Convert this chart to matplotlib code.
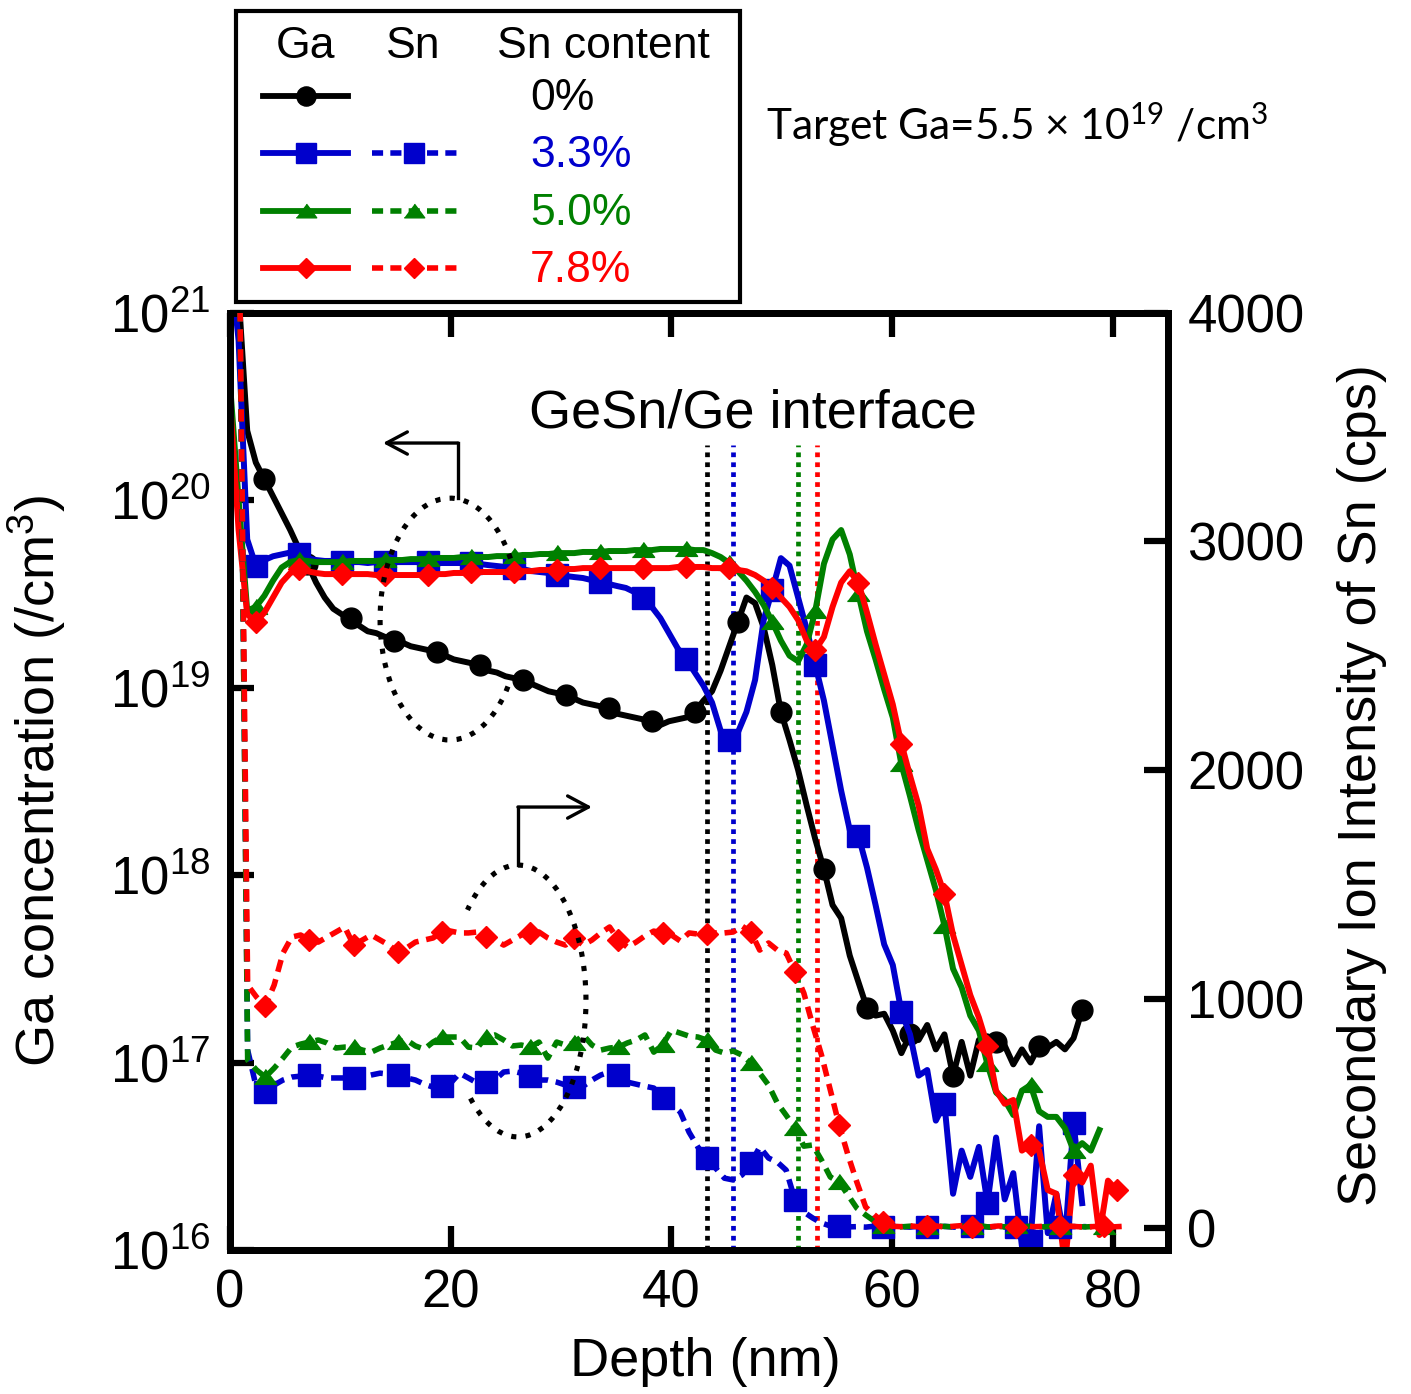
import numpy as np
import matplotlib
matplotlib.use("Agg")
import matplotlib.pyplot as plt
from matplotlib.patches import Arc, Rectangle
from matplotlib.lines import Line2D
from matplotlib.ticker import FixedLocator, NullLocator

plt.rcParams["font.family"] = ["Liberation Sans", "DejaVu Sans"]
plt.rcParams["mathtext.fontset"] = "custom"
plt.rcParams["mathtext.rm"] = "Liberation Sans"
plt.rcParams["mathtext.it"] = "Liberation Sans:italic"
plt.rcParams["mathtext.bf"] = "Liberation Sans:bold"

# ---------------------------------------------------------------- data
# SIMS depth sampling (nm per point)
GA_STEP = 0.78
SN_STEP = 0.80

sn_contents = ["0%", "3.3%", "5.0%", "7.8%"]

# log10 of Ga concentration (/cm^3)
ga_log_00 = [21.40, 21.10, 20.37, 20.20, 20.11, 20.02, 19.93, 19.84, 19.74, 19.66,
             19.56, 19.48, 19.42, 19.39, 19.37, 19.33, 19.30, 19.29, 19.27, 19.25,
             19.24, 19.22, 19.21, 19.20, 19.19, 19.17, 19.15, 19.14, 19.13, 19.12,
             19.09, 19.08, 19.06, 19.05, 19.04, 19.02, 19.00, 18.98, 18.97, 18.96,
             18.94, 18.92, 18.91, 18.90, 18.89, 18.86, 18.85, 18.84, 18.83, 18.82,
             18.80, 18.82, 18.83, 18.84, 18.87, 18.93, 18.98, 19.09, 19.22, 19.35,
             19.48, 19.45, 19.32, 19.12, 18.87, 18.72, 18.56, 18.37, 18.19, 18.03,
             17.84, 17.77, 17.57, 17.43, 17.29, 17.25, 17.26, 17.17, 17.05, 17.15,
             17.12, 17.20, 17.07, 17.15, 16.93, 17.11, 16.93, 17.12, 17.14, 17.11,
             17.09, 16.99, 17.07, 17.00, 17.09, 17.08, 17.11, 17.07, 17.13, 17.28]

ga_log_33 = [21.30, 20.85, 19.79, 19.65, 19.68, 19.70, 19.71, 19.72, 19.71, 19.69,
             19.68, 19.675, 19.675, 19.669, 19.669, 19.669, 19.664, 19.669, 19.669, 19.669,
             19.669, 19.669, 19.669, 19.669, 19.664, 19.664, 19.664, 19.664, 19.664, 19.659,
             19.653, 19.648, 19.643, 19.637, 19.632, 19.621, 19.616, 19.611, 19.600, 19.595,
             19.589, 19.584, 19.573, 19.563, 19.552, 19.541, 19.531, 19.509, 19.478, 19.43,
             19.37, 19.29, 19.21, 19.15, 19.08, 19.01, 18.92, 18.77, 18.72, 18.76,
             18.87, 19.04, 19.36, 19.52, 19.69, 19.65, 19.48, 19.31, 19.12, 18.93,
             18.69, 18.45, 18.24, 18.21, 18.04, 17.84, 17.63, 17.52, 17.27, 17.15,
             16.93, 16.96, 16.69, 16.78, 16.30, 16.53, 16.39, 16.55, 16.25, 16.60,
             16.27, 16.41, 16.02, 16.05, 16.66, 16.09, 16.30, 16.05, 16.68, 16.25]

ga_log_50 = [20.62, 20.00, 19.41, 19.43, 19.49, 19.57, 19.64, 19.67, 19.68, 19.675,
             19.669, 19.669, 19.669, 19.669, 19.675, 19.675, 19.675, 19.675, 19.68, 19.68,
             19.68, 19.685, 19.685, 19.685, 19.691, 19.691, 19.691, 19.696, 19.696, 19.696,
             19.696, 19.701, 19.701, 19.701, 19.707, 19.707, 19.712, 19.712, 19.717, 19.717,
             19.717, 19.723, 19.723, 19.723, 19.728, 19.728, 19.728, 19.733, 19.733, 19.733,
             19.739, 19.739, 19.739, 19.739, 19.733, 19.733, 19.717, 19.696, 19.664, 19.621,
             19.57, 19.51, 19.44, 19.35, 19.25, 19.17, 19.14, 19.23, 19.41, 19.66,
             19.79, 19.84, 19.71, 19.50, 19.30, 19.15, 18.99, 18.84, 18.59, 18.42,
             18.24, 18.08, 17.92, 17.73, 17.50, 17.40, 17.25, 17.17, 16.99, 16.84,
             16.80, 16.72, 16.85, 16.88, 16.74, 16.71, 16.71, 16.65, 16.53, 16.57,
             16.53, 16.64]

ga_log_78 = [20.53, 19.84, 19.39, 19.35, 19.40, 19.48, 19.56, 19.61, 19.63, 19.62,
             19.611, 19.605, 19.605, 19.605, 19.605, 19.605, 19.605, 19.60, 19.60, 19.60,
             19.60, 19.60, 19.60, 19.60, 19.605, 19.605, 19.611, 19.611, 19.616, 19.616,
             19.616, 19.616, 19.616, 19.616, 19.621, 19.621, 19.627, 19.627, 19.627, 19.632,
             19.632, 19.637, 19.637, 19.637, 19.637, 19.637, 19.637, 19.637, 19.637, 19.637,
             19.637, 19.637, 19.643, 19.643, 19.643, 19.643, 19.637, 19.637, 19.637, 19.627,
             19.62, 19.60, 19.57, 19.53, 19.48, 19.43, 19.36, 19.25, 19.20, 19.27,
             19.43, 19.56, 19.62, 19.56, 19.40, 19.23, 19.07, 18.91, 18.70, 18.53,
             18.37, 18.14, 18.03, 17.90, 17.68, 17.52, 17.36, 17.24, 17.09, 16.85,
             16.78, 16.80, 16.53, 16.56, 16.53, 16.32, 16.30, 15.92, 16.40, 16.36,
             16.45, 16.08, 16.37, 16.32]

# Sn secondary ion intensity (cps)
sn_33 = [4500, 4500, 776, 610, 592, 623, 645, 658, 662, 667,
         662, 654, 654, 654, 654, 658, 667, 675, 671, 667,
         654, 645, 627, 614, 618, 632, 675, 654, 632, 636,
         645, 680, 684, 675, 662, 645, 645, 636, 623, 614,
         618, 645, 667, 680, 667, 636, 627, 618, 610, 566,
         540, 505, 417, 352, 304, 260, 216, 208, 230, 282,
         352, 304, 286, 251, 120, 68, 42, 20, 7, 5,
         3, 4, 2, 6, 3, 5, 4, 2, 6, 3,
         4, 5, 2, 3, 6, 4, 3, 5, 2, 4,
         6, 3, 5, 2, 4, 3, 5, 4]

sn_50 = [4500, 4500, 732, 689, 658, 697, 741, 789, 802, 811,
         820, 807, 785, 789, 789, 776, 767, 785, 798, 811,
         820, 794, 780, 811, 833, 833, 833, 789, 785, 833,
         842, 820, 794, 798, 789, 811, 741, 811, 798, 807,
         842, 798, 776, 785, 789, 807, 820, 842, 767, 798,
         863, 850, 837, 833, 820, 776, 763, 772, 754, 719,
         675, 623, 544, 491, 435, 356, 361, 295, 221, 199,
         142, 85, 55, 28, 7, 5, 3, 6, 4, 2,
         7, 5, 3, 6, 4, 8, 2, 5, 3, 6,
         4, 7, 3, 5, 2, 6, 4, 3, 5, 4]

sn_78 = [4500, 4500, 1060, 1008, 968, 1060, 1200, 1270, 1279, 1257,
         1248, 1270, 1292, 1314, 1235, 1257, 1279, 1257, 1235, 1204,
         1222, 1248, 1257, 1266, 1292, 1296, 1288, 1288, 1292, 1270,
         1257, 1235, 1257, 1279, 1288, 1292, 1266, 1248, 1235, 1266,
         1235, 1257, 1288, 1314, 1257, 1226, 1248, 1275, 1296, 1288,
         1279, 1253, 1288, 1283, 1283, 1288, 1288, 1292, 1318, 1292,
         1213, 1244, 1213, 1200, 1117, 1025, 885, 754, 601, 448,
         317, 199, 90, 55, 24, 6, 4, 8, 3, 5,
         7, 2, 6, 9, 4, 5, 3, 7, 6, 2,
         8, 4, 5, 3, 6, 7, 4, 2, 5, 8,
         3, 5]

# GeSn/Ge interface depth for each sample (nm)
interface_depth = [43.2, 45.6, 51.5, 53.2]

# ---------------------------------------------------------------- style
colors = ["#000000", "#0000CC", "#008000", "#FF0000"]
tri = [(-1.0, -0.62), (1.0, -0.62), (0.0, 0.72)]
markers = ["o", "s", tri, "D"]
msizes = [15, 15.5, 16, 11.5]
ga_mark_start = [4, 3, 3, 3]
DASH = (0, (2.2, 1.4))

fig = plt.figure(figsize=(14.11, 13.94), dpi=100)
ax = fig.add_axes([0.1630, 0.1033, 0.6648, 0.6725])
ax2 = ax.twinx()

ga_series = [ga_log_00, ga_log_33, ga_log_50, ga_log_78]
for k, vals in enumerate(ga_series):
    v = np.array(vals)
    d = np.arange(len(v)) * GA_STEP
    ax.plot(d, 10.0 ** v, color=colors[k], lw=4.3, marker=markers[k],
            ms=msizes[k], mec=colors[k], mfc=colors[k],
            markevery=(ga_mark_start[k], 5), zorder=3 + k,
            solid_joinstyle="round")

sn_series = [(1, sn_33), (2, sn_50), (3, sn_78)]
for k, vals in sn_series:
    v = np.array(vals, dtype=float)
    d = np.arange(len(v)) * SN_STEP
    ax2.plot(d, v, color=colors[k], lw=4.0, ls=DASH, marker=markers[k],
             ms=msizes[k], mec=colors[k], mfc=colors[k],
             markevery=(4, 5), zorder=3 + k)

for k, xd in enumerate(interface_depth):
    ax.axvline(xd, ymin=0, ymax=0.8587, color=colors[k], lw=3.4,
               ls=(0, (1, 1.1)), zorder=2)

# axes ranges and ticks
ax.set_xlim(0, 85)
ax.set_yscale("log")
ax.set_ylim(1e16, 1e21)
ax2.set_ylim(-98, 4000)

ax.xaxis.set_major_locator(FixedLocator([0, 20, 40, 60, 80]))
ax.yaxis.set_major_locator(FixedLocator([1e16, 1e17, 1e18, 1e19, 1e20, 1e21]))
ax.yaxis.set_minor_locator(NullLocator())
ax.xaxis.set_minor_locator(NullLocator())
ax2.yaxis.set_major_locator(FixedLocator([0, 1000, 2000, 3000, 4000]))
ax2.yaxis.set_minor_locator(NullLocator())

ax.tick_params(axis="x", which="major", direction="in", length=17, width=4.5,
               labelsize=38, pad=13, top=True, bottom=True)
ax.tick_params(axis="y", which="major", direction="in", length=17, width=4.5,
               labelsize=38, pad=14, left=True, right=False)
ax2.tick_params(axis="y", which="major", direction="in", length=17, width=4.5,
                labelsize=38, pad=14)

for a in (ax, ax2):
    for sp in a.spines.values():
        sp.set_linewidth(5)
        sp.set_color("black")

ax.set_xlabel("Depth (nm)", fontsize=39, va="center")
ax.xaxis.set_label_coords(0.507, -0.119)
ax.set_ylabel("Ga concentration (/cm$^3$)", fontsize=39, va="center")
ax.yaxis.set_label_coords(-0.206, 0.5)
ax2.set_ylabel("Secondary Ion Intensity of Sn (cps)", fontsize=39, va="center")
ax2.yaxis.set_label_coords(1.207, 0.496)

ax.text(0.5576, 0.877, "GeSn/Ge interface", transform=ax.transAxes,
        ha="center", va="baseline", fontsize=39)

# dotted loops with arrows pointing to each axis
dot = (0, (1, 1.8))
ax2.add_patch(Arc((0.2345, 0.673), 0.149, 0.258, theta1=45, theta2=315,
                  transform=ax.transAxes, lw=3.7, ls=dot, color="k", zorder=8))
ax2.add_line(Line2D([0.2431, 0.2431], [0.8021, 0.8608], transform=ax.transAxes,
                    lw=2.4, color="k", zorder=8))
ax2.annotate("", xy=(0.1631, 0.8608), xytext=(0.2431, 0.8608),
             xycoords="axes fraction", textcoords="axes fraction",
             arrowprops=dict(arrowstyle="->,head_length=0.75,head_width=0.4",
                             lw=2.4, color="k", shrinkA=0, shrinkB=0,
                             mutation_scale=20))

ax2.add_patch(Arc((0.307, 0.2656), 0.145, 0.290, theta1=-116, theta2=119,
                  transform=ax.transAxes, lw=3.7, ls=dot, color="k", zorder=8))
ax2.add_line(Line2D([0.307, 0.307], [0.4107, 0.4725], transform=ax.transAxes,
                    lw=2.4, color="k", zorder=8))
ax2.annotate("", xy=(0.3859, 0.4725), xytext=(0.307, 0.4725),
             xycoords="axes fraction", textcoords="axes fraction",
             arrowprops=dict(arrowstyle="->,head_length=0.75,head_width=0.4",
                             lw=2.4, color="k", shrinkA=0, shrinkB=0,
                             mutation_scale=20))

# ---------------------------------------------------------------- legend
lg = fig.add_axes([0, 0, 1, 1])
lg.set_xlim(0, 1411)
lg.set_ylim(1394, 0)
lg.axis("off")
lg.add_patch(Rectangle((236, 11), 504, 291, fill=False, lw=3.0, ec="k"))

lg.text(305, 58, "Ga", ha="center", va="baseline", fontsize=32)
lg.text(413, 58, "Sn", ha="center", va="baseline", fontsize=32)
lg.text(603, 58, "Sn content", ha="center", va="baseline", fontsize=32)

row_y = [96, 153, 211, 268]
for k in range(4):
    y = row_y[k]
    lg.plot([263, 348], [y, y], color=colors[k], lw=4.2)
    lg.plot([306], [y], marker=markers[k], ms=msizes[k] * 0.92,
            color=colors[k], mec=colors[k])
    if k > 0:
        lg.plot([372, 457], [y, y], color=colors[k], lw=4.0, ls=(0, (2.0, 1.3)))
        lg.plot([414], [y], marker=markers[k], ms=msizes[k] * 0.92,
                color=colors[k], mec=colors[k])
    lg.text(530, y + 14, sn_contents[k], ha="left", va="baseline",
            fontsize=32, color=colors[k])

lg.text(766, 140, "Target Ga=5.5 \u00d7 10$\\mathregular{^{19}}$ /cm$\\mathregular{^{3}}$",
        ha="left", va="baseline", fontsize=30.5, family=["Lato", "DejaVu Sans"])

fig.savefig("out.png", dpi=100)
